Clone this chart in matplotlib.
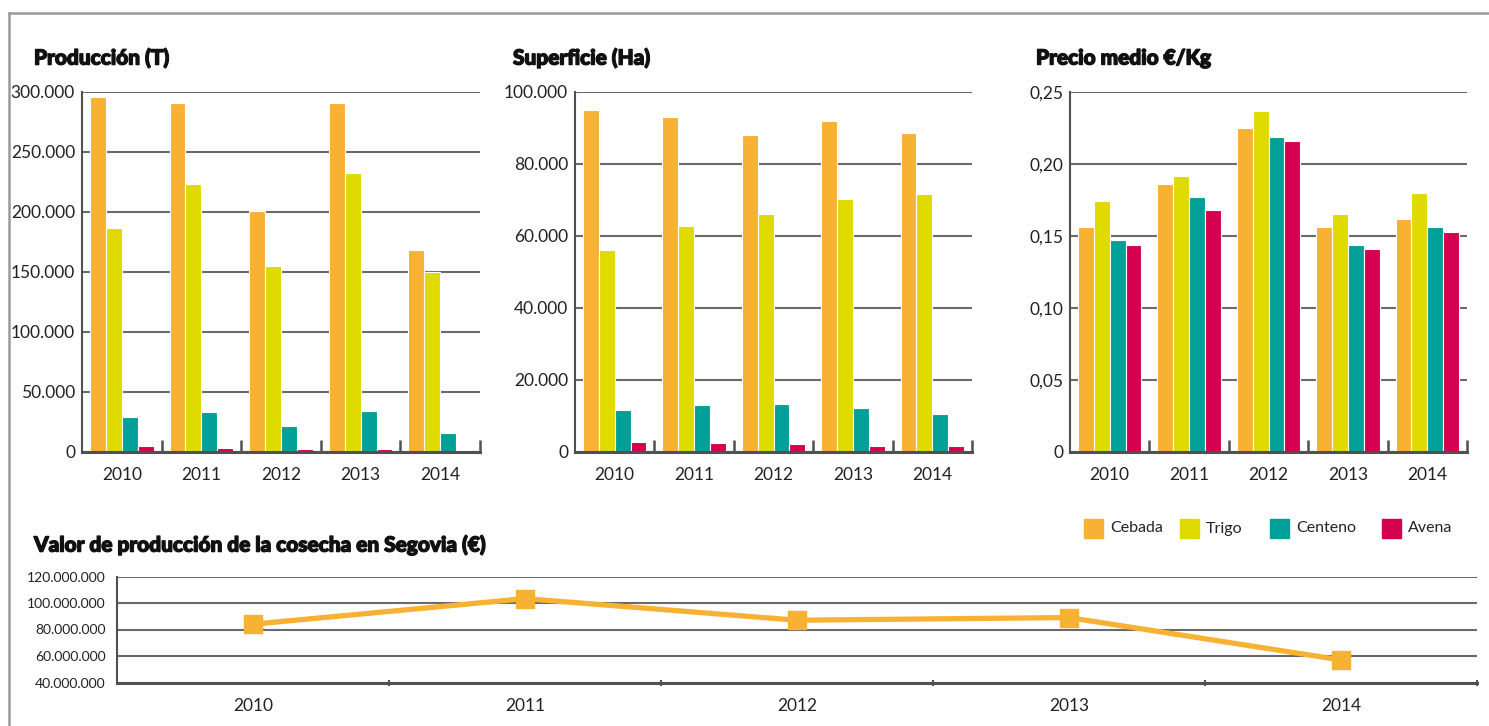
import matplotlib
matplotlib.use("Agg")
import matplotlib.pyplot as plt
import matplotlib.patheffects as pe
from matplotlib.lines import Line2D
from matplotlib.patches import Rectangle
import numpy as np

plt.rcParams['font.family'] = ['Lato', 'DejaVu Sans']

years = ['2010', '2011', '2012', '2013', '2014']
crops = ['Cebada', 'Trigo', 'Centeno', 'Avena']
colors = ['#F7B133', '#DFDB00', '#00A099', '#D5004F']

produccion = {
    'Cebada':  [296000, 291000, 200500, 291000, 168000],
    'Trigo':   [187000, 223000, 155300, 232200, 150300],
    'Centeno': [28900, 33600, 21400, 34400, 15600],
    'Avena':   [5300, 3600, 2800, 2800, 1900],
}
superficie = {
    'Cebada':  [95100, 93000, 88000, 92000, 88500],
    'Trigo':   [56000, 62900, 66000, 70200, 71600],
    'Centeno': [11600, 13000, 13400, 12100, 10500],
    'Avena':   [2700, 2400, 2100, 1600, 1600],
}
precio = {
    'Cebada':  [0.156, 0.186, 0.225, 0.156, 0.162],
    'Trigo':   [0.174, 0.192, 0.237, 0.165, 0.180],
    'Centeno': [0.147, 0.177, 0.219, 0.144, 0.156],
    'Avena':   [0.144, 0.168, 0.216, 0.141, 0.153],
}
valor = [84000000, 103300000, 87000000, 89000000, 57000000]

prod_ticks = [0, 50000, 100000, 150000, 200000, 250000, 300000]
prod_labels = ['0', '50.000', '100.000', '150.000', '200.000', '250.000', '300.000']
sup_ticks = [0, 20000, 40000, 60000, 80000, 100000]
sup_labels = ['0', '20.000', '40.000', '60.000', '80.000', '100.000']
pre_ticks = [0, 0.05, 0.10, 0.15, 0.20, 0.25]
pre_labels = ['0', '0,05', '0,10', '0,15', '0,20', '0,25']
val_ticks = [40e6, 60e6, 80e6, 100e6, 120e6]
val_labels = ['40.000.000', '60.000.000', '80.000.000', '100.000.000', '120.000.000']

titles = ['Producción (T)', 'Superficie (Ha)', 'Precio medio €/Kg']
title_bottom = 'Valor de producción de la cosecha en Segovia (€)'

W, H = 1489, 726
fig = plt.figure(figsize=(W / 100, H / 100), dpi=100)

AX_COL = '#505050'
GRID_COL = '#6a6a6a'
TXT = '#222222'
TITLE_COL = '#111111'
title_fx = [pe.withStroke(linewidth=1.0, foreground=TITLE_COL)]


def rect(l, t, r, b):
    return [l / W, 1 - b / H, (r - l) / W, (b - t) / H]


def bar_chart(pos, data, ticks, labels, title, title_x):
    ax = fig.add_axes(rect(*pos))
    x = np.arange(len(years))
    bw = 0.2
    for i, c in enumerate(crops):
        ax.bar(x + (i - 1.5) * bw, data[c], width=bw, color=colors[i],
               edgecolor='white', linewidth=0.8, zorder=3)
    ax.set_xlim(-0.5, len(years) - 0.5)
    ax.set_ylim(0, ticks[-1])
    ax.set_yticks(ticks)
    ax.set_yticklabels(labels)
    ax.set_xticks(x)
    ax.set_xticklabels(years)
    ax.set_xticks(x + 0.5, minor=True)
    ax.tick_params(axis='x', which='major', length=0, pad=11, labelsize=12.5, labelcolor=TXT)
    ax.tick_params(axis='x', which='minor', direction='in', length=9, width=1.8, color=AX_COL)
    ax.tick_params(axis='y', length=0, pad=5, labelsize=12.5, labelcolor=TXT)
    ax.grid(axis='y', color=GRID_COL, linewidth=1.5, zorder=0)
    for s in ['top', 'right']:
        ax.spines[s].set_visible(False)
    ax.spines['left'].set_color(AX_COL)
    ax.spines['left'].set_linewidth(1.5)
    ax.spines['bottom'].set_color(AX_COL)
    ax.spines['bottom'].set_linewidth(2.2)
    ax.spines['bottom'].set_zorder(4)
    fig.text(title_x / W, 1 - 58 / H, title, fontsize=15, fontweight='black',
             color=TITLE_COL, va='center', ha='left', path_effects=title_fx)
    return ax


bar_chart((82, 92, 480, 452), produccion, prod_ticks, prod_labels, titles[0], 34)
bar_chart((575, 92, 972, 452), superficie, sup_ticks, sup_labels, titles[1], 513)
bar_chart((1070, 92, 1467, 452), precio, pre_ticks, pre_labels, titles[2], 1036)

# legend
leg_x = [1084, 1180, 1270, 1382]
for i, c in enumerate(crops):
    fig.patches.append(Rectangle((leg_x[i] / W, 1 - 538 / H), 19 / W, 19 / H,
                                 transform=fig.transFigure, color=colors[i]))
    fig.text((leg_x[i] + 26) / W, 1 - 528.5 / H, c, fontsize=11.5, color=TXT,
             va='center', ha='left')

# bottom line chart
ax = fig.add_axes(rect(117, 576.5, 1477, 682.5))
x = np.arange(len(years))
ax.plot(x, valor, color='#F7B133', linewidth=3.8, marker='s', markersize=12.5,
        zorder=3, solid_joinstyle='miter')
ax.set_xlim(-0.5, len(years) - 0.5)
ax.set_ylim(val_ticks[0], val_ticks[-1])
ax.set_yticks(val_ticks)
ax.set_yticklabels(val_labels)
ax.set_xticks(x)
ax.set_xticklabels(years)
ax.set_xticks(x + 0.5, minor=True)
ax.tick_params(axis='x', which='major', length=0, pad=11, labelsize=12.5, labelcolor=TXT)
ax.tick_params(axis='x', which='minor', direction='inout', length=5, width=1.5, color=AX_COL)
ax.tick_params(axis='y', length=0, pad=8, labelsize=10, labelcolor=TXT)
ax.grid(axis='y', color=GRID_COL, linewidth=1.5, zorder=0)
for s in ['top', 'right']:
    ax.spines[s].set_visible(False)
ax.spines['left'].set_color(AX_COL)
ax.spines['left'].set_linewidth(1.5)
ax.spines['bottom'].set_color(AX_COL)
ax.spines['bottom'].set_linewidth(2.2)
fig.text(34 / W, 1 - 545 / H, title_bottom, fontsize=15, fontweight='black',
         color=TITLE_COL, va='center', ha='left', path_effects=title_fx)

# outer frame lines (top and left)
fig.add_artist(Line2D([9 / W, 1.0], [1 - 13 / H, 1 - 13 / H], transform=fig.transFigure,
                      color='#9a9a9a', linewidth=1.8))
fig.add_artist(Line2D([9 / W, 9 / W], [0, 1 - 13 / H], transform=fig.transFigure,
                      color='#9a9a9a', linewidth=1.8))

fig.savefig('out.png', dpi=100)
